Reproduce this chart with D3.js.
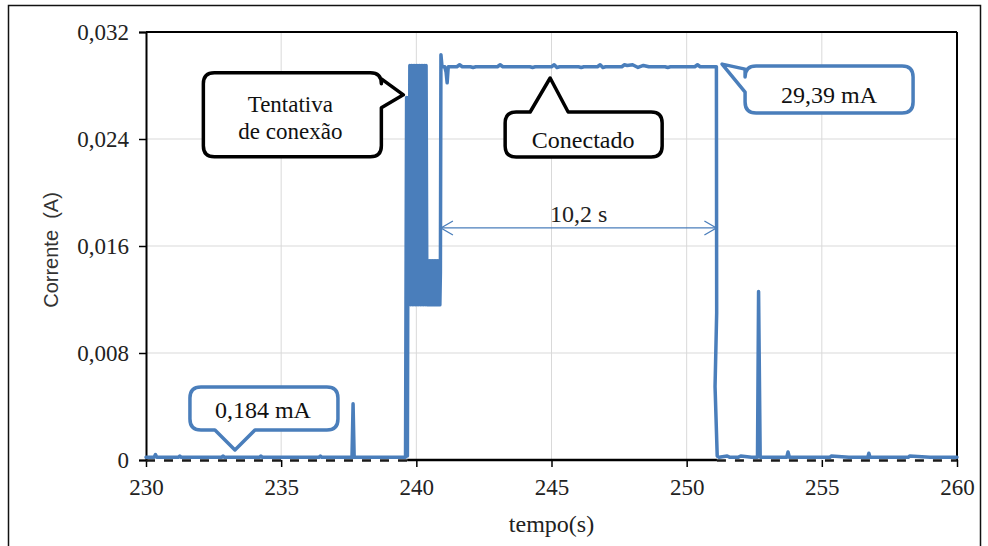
<!DOCTYPE html>
<html>
<head>
<meta charset="utf-8">
<script src="https://cdn.jsdelivr.net/npm/d3@7"></script>
<style>
  html, body { margin: 0; padding: 0; background: #fff; }
  svg { display: block; }
  .serif { font-family: "Liberation Serif", "DejaVu Serif", serif; }
  .sans { font-family: "Liberation Sans", Arial, sans-serif; }
</style>
</head>
<body>
<svg id="chart" width="988" height="546"></svg>
<script>
// ---------- data ----------
const xTicks = [230, 235, 240, 245, 250, 255, 260];
const yTicks = [0, 0.008, 0.016, 0.024, 0.032];
const yTickLabels = ["0", "0,008", "0,016", "0,024", "0,032"];
const xLabel = "tempo(s)";
const yLabel = "Corrente  (A)";

// current trace: time (s)
const time = [
  230.0, 230.3, 230.35, 230.4, 231.2, 231.25, 231.3, 232.0, 232.8, 232.85, 232.9, 233.5,
  234.2, 234.25, 234.3, 235.0, 235.6, 236.4, 236.45, 236.5, 237.0, 237.62, 237.66, 237.7,
  238.3, 239.0, 239.6,
  239.64, 239.67, 239.70, 239.73, 239.76, 239.79, 239.82, 239.85, 239.88, 239.91, 239.94,
  239.97, 240.00, 240.03, 240.06, 240.09, 240.12, 240.15, 240.18, 240.21, 240.24, 240.27,
  240.30, 240.33, 240.36, 240.39, 240.42, 240.45, 240.48, 240.51, 240.54, 240.57, 240.60,
  240.63, 240.66, 240.69, 240.72, 240.75, 240.78, 240.81, 240.84, 240.87, 240.89,
  240.91, 240.95, 241.05, 241.10, 241.14, 241.18, 241.5, 241.6, 241.7, 242.0, 242.1, 242.2,
  243.0, 243.1, 243.2, 244.2, 244.3, 244.4, 245.0, 245.1, 245.2, 245.3, 246.0, 246.1,
  246.2, 246.7, 246.8, 246.9, 247.0, 247.6, 247.7, 247.8, 248.0, 248.2, 248.4, 248.6,
  249.2, 249.3, 249.4, 250.3, 250.4, 250.5, 251.10,
  251.11, 251.05, 251.13, 251.2, 251.5, 251.6, 251.9, 252.0, 252.4, 252.62, 252.66, 252.72,
  253.0, 253.7, 253.75, 253.8, 254.5, 255.3, 255.35, 256.0, 256.7, 256.74, 256.78, 257.5,
  258.2, 258.25, 259.0, 259.6, 260.0
];
// current trace: current (A)
const current = [
  0.0002, 0.0002, 0.0004, 0.0002, 0.0002, 0.0003, 0.0002, 0.0002, 0.0002, 0.0003, 0.0002, 0.0002,
  0.0002, 0.0003, 0.0002, 0.0002, 0.0002, 0.0002, 0.0003, 0.0002, 0.0002, 0.0002, 0.0042, 0.0002,
  0.0002, 0.0002, 0.0002,
  0.0271, 0.0003, 0.0271, 0.0116, 0.0295, 0.0116, 0.0295, 0.0116, 0.0295, 0.0116, 0.0295,
  0.0116, 0.0295, 0.0116, 0.0295, 0.0116, 0.0295, 0.0116, 0.0295, 0.0116, 0.0295, 0.0116,
  0.0295, 0.0116, 0.0295, 0.0116, 0.0149, 0.0116, 0.0149, 0.0116, 0.0149, 0.0116, 0.0149,
  0.0116, 0.0149, 0.0116, 0.0149, 0.0116, 0.0149, 0.0116, 0.0149, 0.0116, 0.0140,
  0.0303, 0.0294, 0.0294, 0.0290, 0.0282, 0.0294, 0.0294, 0.02955, 0.0294, 0.0294, 0.02935, 0.0294,
  0.0294, 0.02955, 0.0294, 0.0294, 0.02935, 0.0294, 0.0294, 0.02955, 0.02935, 0.0294, 0.0294, 0.02935,
  0.0294, 0.0294, 0.02955, 0.02935, 0.0294, 0.0294, 0.02955, 0.0295, 0.02955, 0.02935, 0.0295, 0.0294,
  0.0294, 0.02935, 0.0294, 0.0294, 0.02955, 0.0294, 0.0294,
  0.0110, 0.0055, 0.0003, 0.0002, 0.0003, 0.0002, 0.0002, 0.0003, 0.0002, 0.0002, 0.0126, 0.0002,
  0.0002, 0.0002, 0.0006, 0.0002, 0.0002, 0.0002, 0.0003, 0.0002, 0.0002, 0.0005, 0.0002, 0.0002,
  0.0002, 0.0003, 0.0002, 0.0002, 0.0002
];

// dashed zero reference segments and solid axis segment (time ranges)
const zeroDashed = [[230, 239.66], [251.12, 260]];
const zeroSolid = [[239.66, 251.12]];

// annotations: anchor (tip) in data units
const callouts = [
  { lines: ["Tentativa", "de conexão"], t: 239.52, v: 0.0273, color: "#000", side: "right" },
  { lines: ["Conectado"], t: 244.95, v: 0.02856, color: "#000", side: "top" },
  { lines: ["29,39 mA"], t: 251.31, v: 0.0296, color: "#4a7ebb", side: "left" },
  { lines: ["0,184 mA"], t: 233.29, v: 0.00075, color: "#4a7ebb", side: "bottom" }
];
const spanArrow = { t0: 240.91, t1: 251.1, v: 0.01735, label: "10,2 s" };

// ---------- layout ----------
const W = 988, H = 546;
const margin = { left: 146, right: 31, top: 32, bottom: 86 };
const blue = "#4a7ebb";

const svg = d3.select("#chart");
const x = d3.scaleLinear().domain([230, 260]).range([margin.left, W - margin.right]);
const y = d3.scaleLinear().domain([0, 0.032]).range([H - margin.bottom, margin.top]);

// outer frame
svg.append("rect").attr("x", 8.5).attr("y", 5.5).attr("width", 972).attr("height", 560)
  .attr("fill", "none").attr("stroke", "#111").attr("stroke-width", 1.5);

// gridlines
svg.append("g").selectAll("line").data(xTicks.slice(1, -1)).join("line")
  .attr("x1", d => x(d)).attr("x2", d => x(d))
  .attr("y1", y(0)).attr("y2", y(0.032))
  .attr("stroke", "#d9d9d9").attr("stroke-width", 1);
svg.append("g").selectAll("line").data(yTicks.slice(1, -1)).join("line")
  .attr("y1", d => y(d)).attr("y2", d => y(d))
  .attr("x1", x(230)).attr("x2", x(260))
  .attr("stroke", "#d9d9d9").attr("stroke-width", 1);

// plot frame: top, right
svg.append("line").attr("x1", x(230)).attr("x2", x(260)).attr("y1", y(0.032)).attr("y2", y(0.032))
  .attr("stroke", "#000").attr("stroke-width", 2);
svg.append("line").attr("x1", x(260)).attr("x2", x(260)).attr("y1", y(0.032)).attr("y2", y(0))
  .attr("stroke", "#000").attr("stroke-width", 2);

// y axis
const yAxis = d3.axisLeft(y).tickValues(yTicks).tickSize(7).tickPadding(10)
  .tickFormat((d, i) => yTickLabels[i]);
const gy = svg.append("g").attr("transform", `translate(${x(230)},0)`).call(yAxis)
  .attr("font-family", null).attr("font-size", 23).attr("class", "serif");
gy.select(".domain").attr("stroke", "#000").attr("stroke-width", 2);
gy.selectAll(".tick line").attr("stroke", "#000").attr("stroke-width", 1.5);
gy.selectAll("text").attr("fill", "#222");

// x axis (ticks + labels only; zero line drawn separately)
const xAxis = d3.axisBottom(x).tickValues(xTicks).tickSize(7).tickPadding(12).tickFormat(d3.format("d"));
const gx = svg.append("g").attr("transform", `translate(0,${y(0)})`).call(xAxis)
  .attr("font-family", null).attr("font-size", 23).attr("class", "serif");
gx.select(".domain").remove();
gx.selectAll(".tick line").attr("stroke", "#000").attr("stroke-width", 1.5);
gx.selectAll("text").attr("fill", "#222");

// zero line: solid part
svg.append("g").selectAll("line").data(zeroSolid).join("line")
  .attr("x1", d => x(d[0])).attr("x2", d => x(d[1]))
  .attr("y1", y(0)).attr("y2", y(0))
  .attr("stroke", "#000").attr("stroke-width", 2.5);

// axis titles
svg.append("text").attr("class", "serif").attr("x", (x(230) + x(260)) / 2).attr("y", 532)
  .attr("text-anchor", "middle").attr("font-size", 24)
  .attr("fill", "#222").text(xLabel);
svg.append("text").attr("class", "sans").attr("transform", `translate(58,${(y(0) + y(0.032)) / 2 + 4}) rotate(-90)`)
  .attr("text-anchor", "middle")
  .attr("font-size", 20).attr("fill", "#333").style("white-space", "pre").text(yLabel);

// trace
const pts = time.map((t, i) => [t, current[i]]);
const line = d3.line().x(d => x(d[0])).y(d => y(d[1]));
svg.append("path").datum(pts).attr("d", line)
  .attr("fill", "none").attr("stroke", blue).attr("stroke-width", 3.5)
  .attr("stroke-linejoin", "round").attr("stroke-linecap", "round");

// dashed zero line
svg.append("g").selectAll("line").data(zeroDashed).join("line")
  .attr("x1", d => x(d[0])).attr("x2", d => x(d[1]))
  .attr("y1", y(0) + 0.5).attr("y2", y(0) + 0.5)
  .attr("stroke", "#1a1a1a").attr("stroke-width", 2.5).attr("stroke-dasharray", "9,9");

// span arrow
const ay = y(spanArrow.v);
const ax0 = x(spanArrow.t0), ax1 = x(spanArrow.t1);
const ga = svg.append("g").attr("stroke", blue).attr("stroke-width", 1.3).attr("fill", "none");
ga.append("line").attr("x1", ax0).attr("x2", ax1).attr("y1", ay).attr("y2", ay);
ga.append("path").attr("d", `M${ax0 + 12},${ay - 7} L${ax0},${ay} L${ax0 + 12},${ay + 7}`);
ga.append("path").attr("d", `M${ax1 - 12},${ay - 7} L${ax1},${ay} L${ax1 - 12},${ay + 7}`);
svg.append("text").attr("class", "serif").attr("x", (ax0 + ax1) / 2).attr("y", ay - 6).attr("text-anchor", "middle")
  .attr("font-size", 24).attr("fill", "#222").text(spanArrow.label);

// callouts
function bubble(px, py, box, side, tip) {
  const r = 11;
  const { x0, y0, x1, y1 } = box;
  let p = `M${x0 + r},${y0}`;
  if (side === "top") p += ` L${tip[0]},${y0} L${px},${py} L${tip[1]},${y0}`;
  p += ` L${x1 - r},${y0} Q${x1},${y0} ${x1},${y0 + r}`;
  if (side === "right") p += ` L${x1},${tip[0]} L${px},${py} L${x1},${tip[1]}`;
  p += ` L${x1},${y1 - r} Q${x1},${y1} ${x1 - r},${y1}`;
  if (side === "bottom") p += ` L${tip[1]},${y1} L${px},${py} L${tip[0]},${y1}`;
  p += ` L${x0 + r},${y1} Q${x0},${y1} ${x0},${y1 - r}`;
  if (side === "left") p += ` L${x0},${tip[1]} L${px},${py} L${x0},${tip[0]}`;
  p += ` L${x0},${y0 + r} Q${x0},${y0} ${x0 + r},${y0} Z`;
  return p;
}

const geom = {
  right:  (px, py) => ({ box: { x0: px - 200, y0: py - 22, x1: px - 22, y1: py + 62 }, tip: [py - 16, py + 13], tx: px - 113, ty: [py + 17, py + 44], fs: 23 }),
  top:    (px, py) => ({ box: { x0: px - 45, y0: py + 34, x1: px + 112, y1: py + 79 }, tip: [px - 20, px + 18], tx: px + 33, ty: [py + 70], fs: 24 }),
  left:   (px, py) => ({ box: { x0: px + 23, y0: py + 2, x1: px + 191, y1: py + 49 }, tip: [py + 5, py + 28], tx: px + 107, ty: [py + 39], fs: 24 }),
  bottom: (px, py) => ({ box: { x0: px - 45, y0: py - 63, x1: px + 103, y1: py - 20 }, tip: [px - 20, px + 20], tx: px + 28, ty: [py - 32], fs: 24 })
};

callouts.forEach(c => {
  const px = x(c.t), py = y(c.v);
  const g = geom[c.side](px, py);
  svg.append("path").attr("d", bubble(px, py, g.box, c.side, g.tip))
    .attr("fill", "#fff").attr("stroke", c.color).attr("stroke-width", 3.5)
    .attr("stroke-linejoin", "round");
  c.lines.forEach((ln, i) => {
    svg.append("text").attr("class", "serif").attr("x", g.tx).attr("y", g.ty[i]).attr("text-anchor", "middle")
      .attr("font-size", g.fs).attr("fill", "#111").text(ln);
  });
});
</script>
</body>
</html>
